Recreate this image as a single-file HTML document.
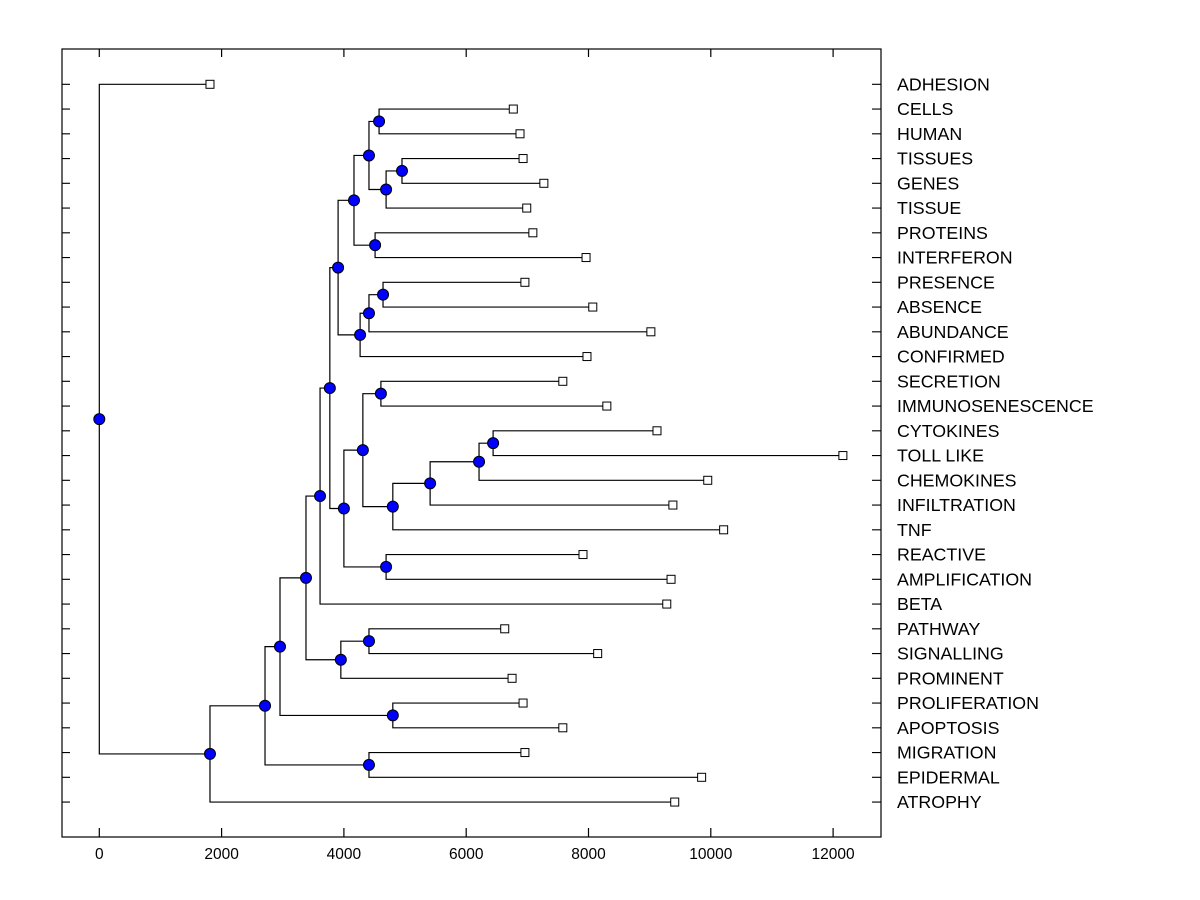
<!DOCTYPE html>
<html><head><meta charset="utf-8"><style>
html,body{margin:0;padding:0;background:#fff;}
svg{display:block;font-family:"Liberation Sans",Arial,sans-serif;}
</style></head><body>
<svg id="chart" width="1200" height="900" viewBox="0 0 1200 900" xmlns="http://www.w3.org/2000/svg">
<rect x="0" y="0" width="1200" height="900" fill="#fff"/>
<g id="links"></g>
<g id="marks"></g>
<g id="axes"></g>
</svg>
<script>
const leafLabels = ["ADHESION","CELLS","HUMAN","TISSUES","GENES","TISSUE","PROTEINS","INTERFERON","PRESENCE","ABSENCE","ABUNDANCE","CONFIRMED","SECRETION","IMMUNOSENESCENCE","CYTOKINES","TOLL LIKE","CHEMOKINES","INFILTRATION","TNF","REACTIVE","AMPLIFICATION","BETA","PATHWAY","SIGNALLING","PROMINENT","PROLIFERATION","APOPTOSIS","MIGRATION","EPIDERMAL","ATROPHY"];
const leafValues = [1810,6770,6880,6930,7270,6990,7090,7960,6960,8070,9020,7975,7580,8300,9120,12160,9950,9380,10210,7910,9350,9280,6630,8150,6750,6930,7580,6960,9850,9410];
const mergeLeft  = [1,3,31,30,6,33,8,36,37,35,12,14,41,42,43,40,19,45,39,48,22,50,49,25,52,27,54,56,0];
const mergeRight = [2,4,5,32,7,34,9,10,11,38,13,15,16,17,18,44,20,46,47,21,23,24,51,26,53,28,55,29,57];
const mergeHeight = [4575,4950,4690,4410,4510,4165,4640,4410,4265,3905,4605,6440,6210,5410,4800,4310,4690,4000,3770,3610,4410,3950,3380,4800,2955,4410,2710,1810,0];
const xTicks = [0,2000,4000,6000,8000,10000,12000];

const NS="http://www.w3.org/2000/svg";
const L=62,R=881,T=49,B=837;
const X=v=>99.3+v*0.06115;
const Y=i=>84.3+i*24.75;
function mk(tag,attrs,parent){const e=document.createElementNS(NS,tag);for(const k in attrs)e.setAttribute(k,attrs[k]);parent.appendChild(e);return e;}
const links=document.getElementById('links'),marks=document.getElementById('marks'),axes=document.getElementById('axes');
const n=leafLabels.length;
const nx=[],ny=[];
for(let i=0;i<n;i++){nx[i]=X(leafValues[i]);ny[i]=Y(i);}
for(let m=0;m<mergeHeight.length;m++){
  const id=n+m,a=mergeLeft[m],b=mergeRight[m];
  nx[id]=X(mergeHeight[m]);ny[id]=(ny[a]+ny[b])/2;
  const p=mk('path',{d:`M${nx[a]},${ny[a]}H${nx[id]}V${ny[b]}H${nx[b]}`,fill:'none',stroke:'#000','stroke-width':1.2},links);
  
  
}
for(let i=0;i<n;i++){
  const r=mk('rect',{x:nx[i]-4,y:ny[i]-4,width:8,height:8,fill:'#fff',stroke:'#000','stroke-width':1},marks);
  
  
}
for(let m=0;m<mergeHeight.length;m++){
  const id=n+m;
  const c=mk('circle',{cx:nx[id],cy:ny[id],r:5.5,fill:'#0000ff',stroke:'#000','stroke-width':1},marks);
  
  
}
const fr=mk('rect',{x:L,y:T,width:R-L,height:B-T,fill:'none',stroke:'#000','stroke-width':1.2},axes);


for(let i=0;i<n;i++){
  const t=mk('path',{d:`M${L},${Y(i)}h8M${R},${Y(i)}h-9`,stroke:'#000','stroke-width':1.2},axes);
  
  
  const tx=mk('text',{x:897,y:Y(i)+6,'font-size':17.8,fill:'#000'},axes);
  tx.textContent=leafLabels[i];
  
  
}
xTicks.forEach(v=>{
  const t=mk('path',{d:`M${X(v)},${T}v8M${X(v)},${B}v-9`,stroke:'#000','stroke-width':1.2},axes);
  
  
  const tx=mk('text',{x:X(v),y:859,'font-size':15.5,'text-anchor':'middle',fill:'#000'},axes);
  tx.textContent=String(v);
  
  
});
</script>
</body></html>
